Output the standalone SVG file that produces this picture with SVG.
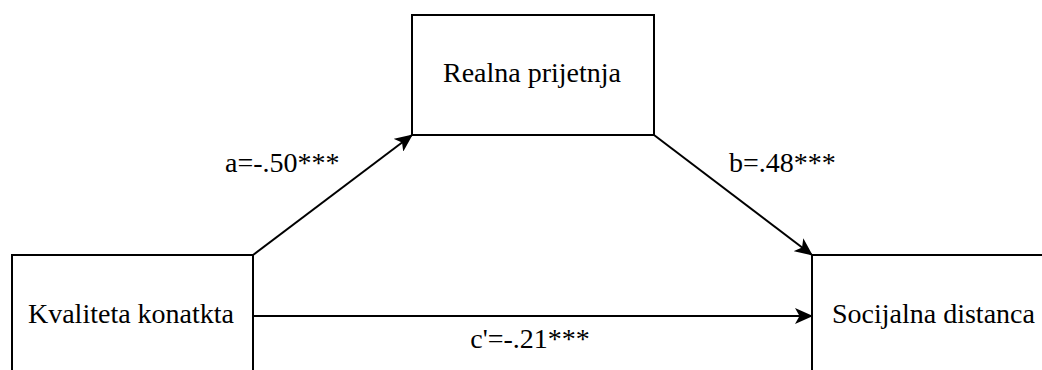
<svg xmlns="http://www.w3.org/2000/svg" width="1042" height="370" viewBox="0 0 1042 370">
<style>
.box{fill:#fff;stroke:#000;stroke-width:2}
.t{font-size:28px;fill:#000}
.c{stroke:#000;stroke-width:2;fill:none}
</style>
<defs>
<marker id="ah" markerUnits="userSpaceOnUse" markerWidth="20" markerHeight="16" refX="17" refY="8" orient="auto" viewBox="0 0 20 16">
<path d="M0,0 L18,8 L0,16 L4.5,8 Z" fill="#000"/>
</marker>
</defs>
<rect width="1042" height="370" fill="#fff"/>
<g font-family="Liberation Serif, Times New Roman, DejaVu Serif, serif">
<g id="connectors">
<line class="c" x1="253" y1="255" x2="412" y2="135" marker-end="url(#ah)"/>
<line class="c" x1="654" y1="135" x2="812" y2="255" marker-end="url(#ah)"/>
<line class="c" x1="253" y1="316" x2="812" y2="316" marker-end="url(#ah)"/>
<text class="t" x="225" y="172">a=-.50***</text>
<text class="t" x="729" y="172">b=.48***</text>
<text class="t" x="530" y="348" text-anchor="middle">c'=-.21***</text>
</g>
<g id="node-kvaliteta">
<rect class="box" x="12" y="255" width="241" height="130"/>
<text class="t" x="131" y="323" text-anchor="middle">Kvaliteta konatkta</text>
</g>
<g id="node-realna">
<rect class="box" x="412" y="15" width="242" height="120"/>
<text class="t" x="532" y="82" text-anchor="middle">Realna prijetnja</text>
</g>
<g id="node-socijalna">
<rect class="box" x="812" y="255" width="250" height="130"/>
<text class="t" x="832" y="323">Socijalna distanca</text>
</g>
</g>
</svg>
